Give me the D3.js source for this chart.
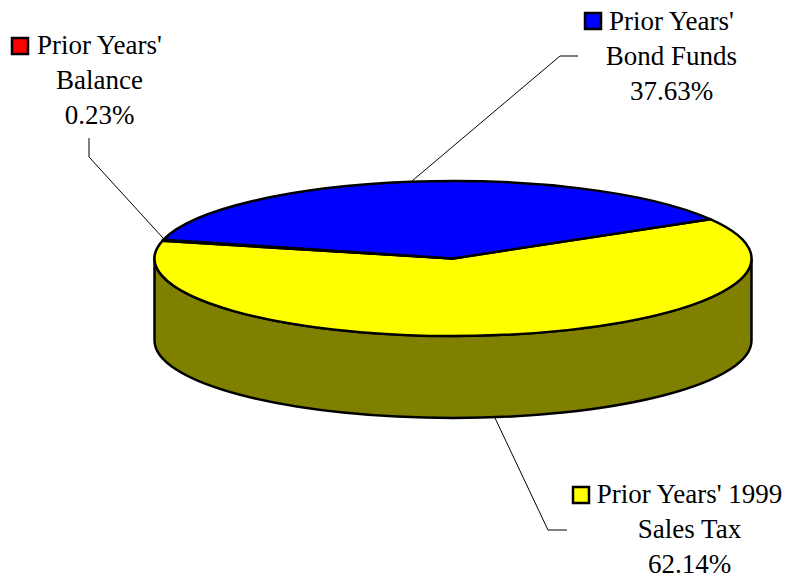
<!DOCTYPE html>
<html><head><meta charset="utf-8">
<script src="https://cdn.jsdelivr.net/npm/d3@7"></script>
<style>html,body{margin:0;padding:0;background:#fff}svg{display:block}</style>
</head><body><div id="c"></div>
<script>
const categories = ["Prior Years' 1999 Sales Tax", "Prior Years' Balance", "Prior Years' Bond Funds"];
const values = [62.14, 0.23, 37.63];
const valueLabels = ["62.14%", "0.23%", "37.63%"];
const colors = ["#ffff00", "#ff0000", "#0000ff"];
const labelLines = [["Prior Years' 1999", "Sales Tax"], ["Prior Years'", "Balance"], ["Prior Years'", "Bond Funds"]];

const W = 786, H = 579, cx = 453, cy = 258.5, rx = 298.5, ry = 77.5, depth = 82, sw = 2.5;
const svg = d3.select("#c").append("svg").attr("width", W).attr("height", H);

const startAngle = 59.5 * Math.PI / 180;
const pie = d3.pie().sort(null).value(d => d).startAngle(startAngle).endAngle(startAngle + 2 * Math.PI);
const arcs = pie(values);
const arc = d3.arc().innerRadius(0).outerRadius(rx);

// side wall
svg.append("path")
  .attr("d", `M${cx - rx},${cy}L${cx - rx},${cy + depth}A${rx},${ry} 0 0 0 ${cx + rx},${cy + depth}L${cx + rx},${cy}A${rx},${ry} 0 0 1 ${cx - rx},${cy}Z`)
  .attr("fill", "#808000").attr("stroke", "#000").attr("stroke-width", sw);

// top face
svg.append("g").attr("transform", `translate(${cx},${cy}) scale(1,${ry / rx})`)
  .selectAll("path").data(arcs).join("path")
  .attr("d", arc).attr("fill", (d, i) => colors[i])
  .attr("stroke", "#000").attr("stroke-width", sw)
  .attr("stroke-linejoin", "round").attr("vector-effect", "non-scaling-stroke");

// leader lines
const leaders = [
  [[495, 418], [548, 530], [567, 530]],
  [[163, 238], [89, 157], [89, 138]],
  [[412, 181], [560, 56], [578, 56]]
];
svg.append("g").selectAll("path").data(leaders).join("path")
  .attr("d", d => d3.line()(d))
  .attr("fill", "none").attr("stroke", "#000").attr("stroke-width", 1);

// labels
const labelX = [689.5, 99.5, 671.5];
const labelY = [503, 54, 30];
const keyX = [573, 12, 585];
const keyY = [487, 38, 13];
const lineHeight = 35;
labelX.forEach((x, i) => {
  svg.append("g").selectAll("text").data([...labelLines[i], valueLabels[i]]).join("text")
    .attr("x", x).attr("y", (d, k) => labelY[i] + k * lineHeight)
    .attr("text-anchor", "middle")
    .attr("font-family", "'Liberation Serif', serif").attr("font-size", 27).attr("fill", "#000")
    .text(d => d);
  svg.append("rect").attr("x", keyX[i]).attr("y", keyY[i]).attr("width", 16).attr("height", 16)
    .attr("fill", colors[i]).attr("stroke", "#000").attr("stroke-width", 2.5);
});
</script></body></html>
